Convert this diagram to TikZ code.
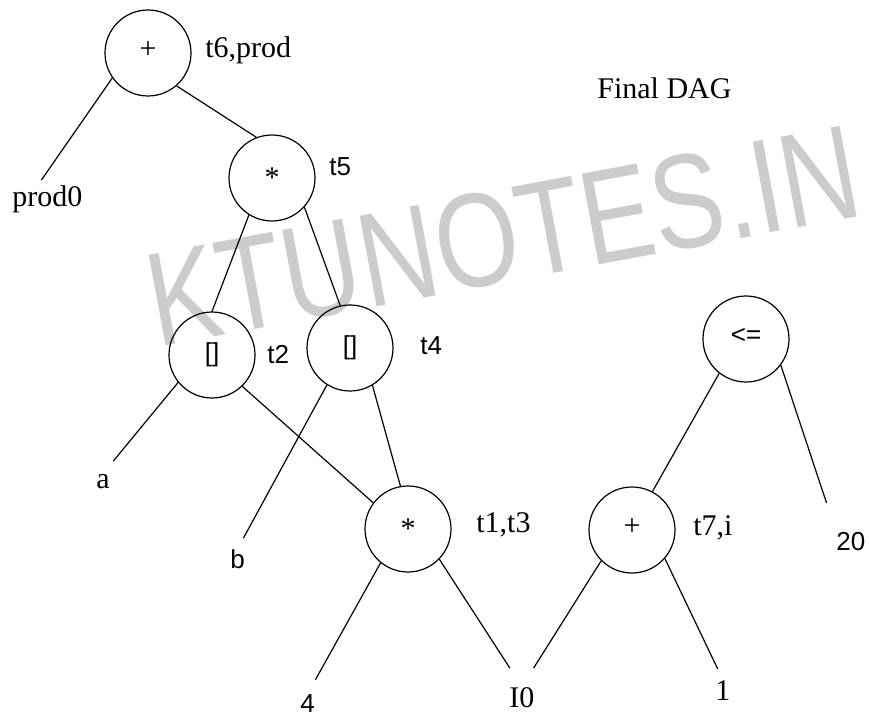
\documentclass[tikz,border=0pt]{standalone}
\usepackage{graphicx}
\usepackage{fontspec}
\setmainfont{Liberation Serif}
\setsansfont{Liberation Sans}
\begin{document}
\begin{tikzpicture}[x=0.5pt,y=-0.5pt,
    op/.style={draw,circle,minimum size=43pt,inner sep=0pt,line width=0.6pt,font=\fontsize{15}{18}\selectfont},
    sop/.style={op,font=\sffamily\fontsize{13}{16}\selectfont},
    tag/.style={inner sep=0pt,anchor=base west,font=\fontsize{15}{18}\selectfont},
    stag/.style={tag,font=\sffamily\fontsize{13}{16}\selectfont},
    leg/.style={line width=0.6pt},
    legto/.style={leg,shorten >=#1}]
\useasboundingbox (0,0) rectangle (869,717);

% watermark
\node[rotate=10.6,inner sep=0pt,text=black!20,font=\sffamily\fontsize{67}{67}\selectfont] (mark) at (503,236) {\scalebox{0.8}[1]{KTUNOTES.IN}};

% operators
\node[op] (n6) at (148,53) {\raisebox{3pt}{+}};
\node[op] (n5) at (272,178) {*};
\node[sop] (n2) at (212,355) {\raisebox{3pt}{[]}};
\node[sop] (n4) at (350,348) {\raisebox{3pt}{[]}};
\node[op] (n1) at (408,529) {*};
\node[sop] (n8) at (746,339) {\raisebox{3pt}{<=}};
\node[op] (n7) at (632,530) {\raisebox{3pt}{+}};

% names of the nodes
\node[tag] (l6) at (205,58) {t6,prod};
\node[stag] (l5) at (329,176) {t5};
\node[stag] (l2) at (267,364) {t2};
\node[stag] (l4) at (420,355) {t4};
\node[tag] (l1) at (476,532) {t1,t3};
\node[tag] (l7) at (693,535) {t7,i};
\node[tag] (title) at (597,99) {Final DAG};

% leaves
\node[tag] (prod0) at (12,207) {prod0};
\node[tag] (a) at (96,488) {a};
\node[stag] (b) at (230,568) {b};
\node[stag] (four) at (300,712) {4};
\node[tag] (i0) at (509,707) {I0};
\node[tag] (one) at (715,700) {1};
\node[stag] (twenty) at (836,550) {20};

% edges
\draw[legto=3.5pt] (n6.-145) -- ([xshift=-5pt]prod0.north);
\draw[leg] (n6.-49) -- (n5.111);
\draw[leg] (n5.-122) -- (n2.90);
\draw[leg] (n5.-42) -- (n4.103);
\draw[legto=8pt] (n2.-141) -- (a.north);
\draw[leg] (n2.-46) -- (n1.143);
\draw[legto=6pt] (n4.-122) -- (b.north);
\draw[leg] (n4.-59) -- (n1.100);
\draw[legto=8pt] (n1.-129) -- (four.north);
\draw[legto=11pt] (n1.-44) -- (i0.north);
\draw[legto=11pt] (n7.-135) -- (i0.north);
\draw[legto=6pt] (n7.-41) -- (one.north);
\draw[leg] (n8.-128) -- (n7.62);
\draw[legto=15pt] (n8.-37) -- (twenty.north west);
\end{tikzpicture}
\end{document}
